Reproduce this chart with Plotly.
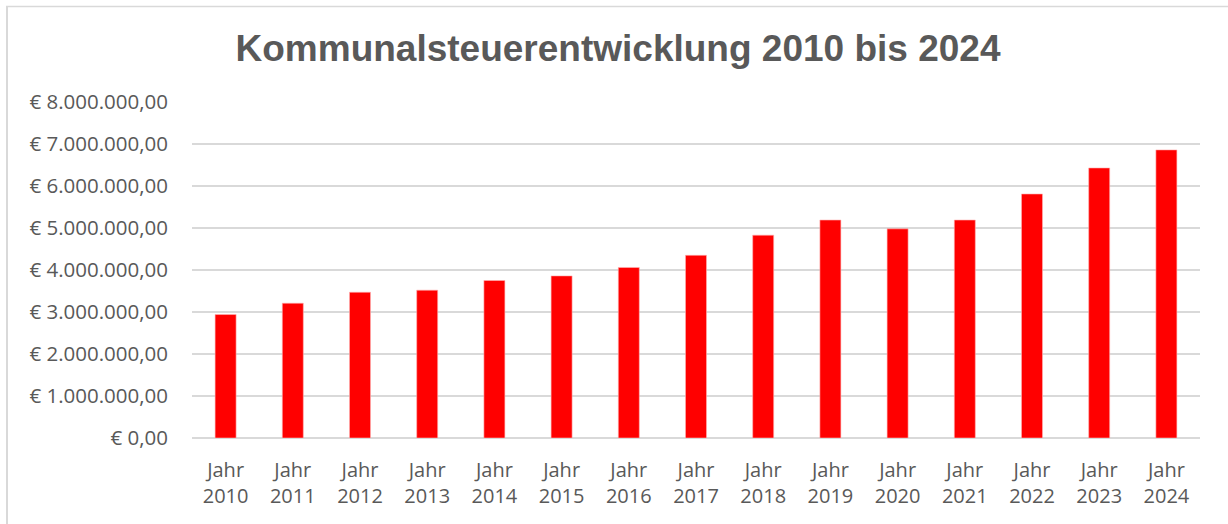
import plotly.graph_objects as go

years = ["2010", "2011", "2012", "2013", "2014", "2015", "2016", "2017",
         "2018", "2019", "2020", "2021", "2022", "2023", "2024"]
categories = ["Jahr<br>" + y for y in years]
values = [2940000, 3210000, 3470000, 3520000, 3750000, 3860000, 4060000, 4350000,
          4830000, 5190000, 4980000, 5190000, 5810000, 6430000, 6860000]
y_ticks = [0, 1000000, 2000000, 3000000, 4000000, 5000000, 6000000, 7000000, 8000000]
y_tick_text = ["€ 0,00", "€ 1.000.000,00", "€ 2.000.000,00", "€ 3.000.000,00",
               "€ 4.000.000,00", "€ 5.000.000,00", "€ 6.000.000,00",
               "€ 7.000.000,00", "€ 8.000.000,00"]

W, H = 1228, 524
ml, mr, mt, mb = 192, 28, 102, 86
pw, ph = W - ml - mr, H - mt - mb

fig = go.Figure(go.Bar(
    x=categories, y=values,
    marker=dict(color="#ff0000", line=dict(color="#ffb3b3", width=0.6)),
    hoverinfo="x+y",
))

grey = "#595959"
fig.update_layout(
    width=W, height=H,
    margin=dict(l=ml, r=mr, t=mt, b=mb),
    paper_bgcolor="white", plot_bgcolor="white",
    bargap=0.6875,
    showlegend=False,
    title=dict(text="<b>Kommunalsteuerentwicklung 2010 bis 2024</b>",
               x=(618 - ml) / pw, xref="paper", xanchor="center",
               y=1 - 48 / H, yanchor="middle",
               font=dict(family="Liberation Sans, Arial", size=37, color=grey)),
    font=dict(family="Open Sans, Calibri, sans-serif", color=grey),
    xaxis=dict(tickfont=dict(size=20, color=grey), showgrid=False,
               showline=False, ticks="", ticklabelstandoff=18, automargin=False),
    yaxis=dict(range=[0, 8000000], tickvals=y_ticks, ticktext=y_tick_text,
               tickfont=dict(size=20.5, color=grey),
               showgrid=True, gridcolor="#d9d9d9", gridwidth=1.5,
               zeroline=True, zerolinecolor="#d9d9d9", zerolinewidth=1.5,
               showline=False, ticks="", ticklabelstandoff=23, automargin=False),
    shapes=[
        dict(type="line", xref="paper", yref="paper",
             x0=(7 - ml) / pw, x1=(7 - ml) / pw,
             y0=(H - mb - 6) / ph, y1=-(mb + 5) / ph,
             line=dict(color="#d9d9d9", width=2)),
        dict(type="line", xref="paper", yref="paper",
             x0=(6 - ml) / pw, x1=(W + 5 - ml) / pw,
             y0=(H - mb - 6.5) / ph, y1=(H - mb - 6.5) / ph,
             line=dict(color="#d9d9d9", width=1.5)),
    ],
)

fig.write_html("out.html", config={"displayModeBar": False},
               post_script="document.body.style.margin='0';")
